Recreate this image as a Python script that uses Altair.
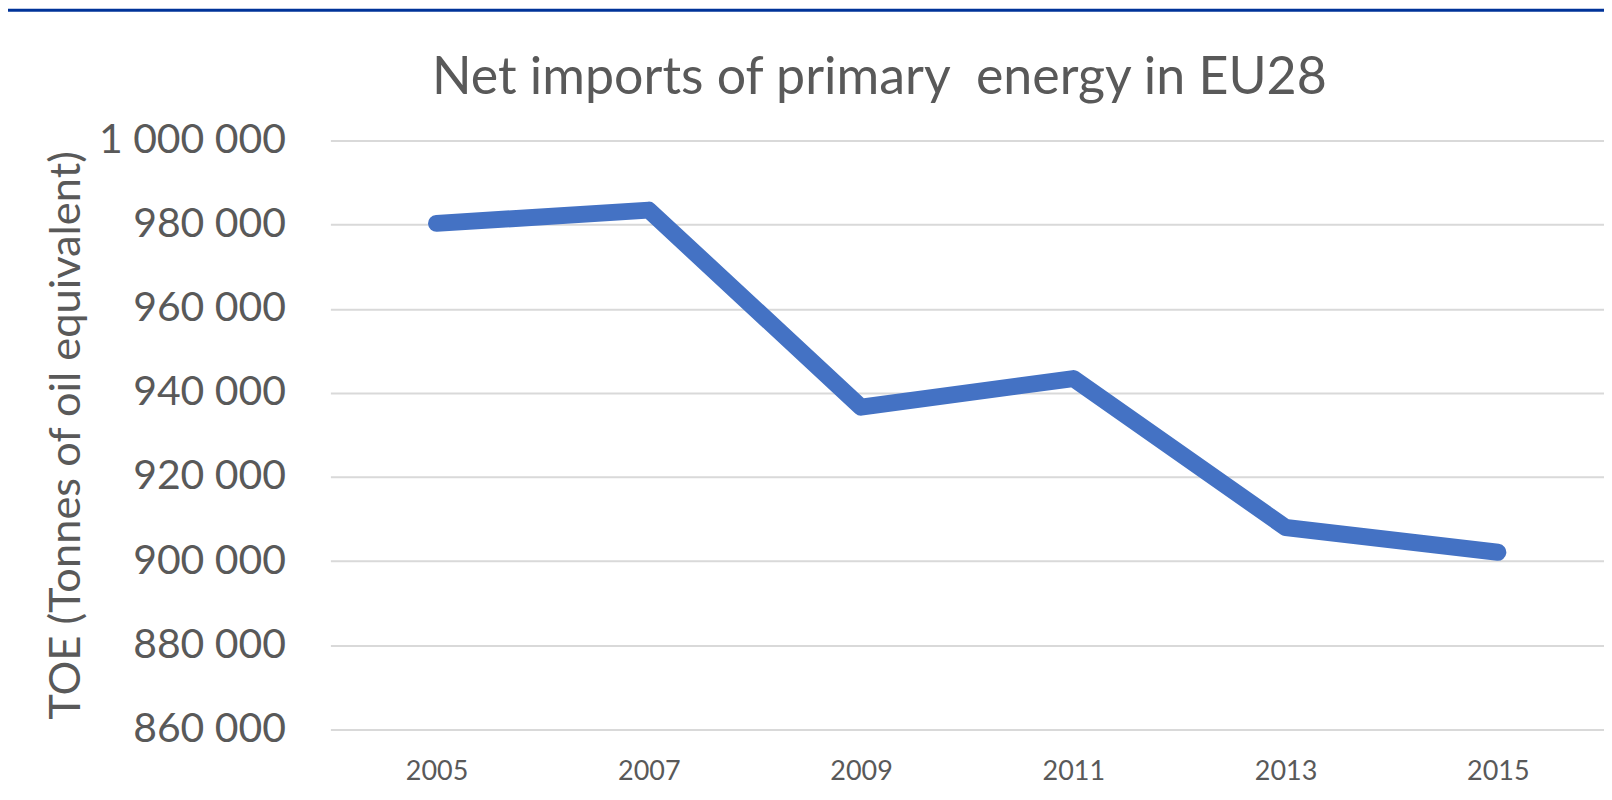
import altair as alt
import pandas as pd

years = ["2005", "2007", "2009", "2011", "2013", "2015"]
imports_toe = [980300, 983450, 936600, 943400, 908000, 902100]
y_ticks = [860000, 880000, 900000, 920000, 940000, 960000, 980000, 1000000]
title_text = "Net imports of primary\u00a0 energy in EU28"
y_title = "TOE (Tonnes of oil equivalent)"

df = pd.DataFrame({"year": years, "toe": imports_toe})

FONT = "Lato"
TXT = "#595959"
W, H = 1276, 590

line = alt.Chart(df).mark_line(
    color="#4472C4", strokeWidth=17, strokeCap="round", strokeJoin="round"
).encode(
    x=alt.X("year:O", sort=years, title=None,
            scale=alt.Scale(type="point", padding=0.5),
            axis=alt.Axis(labelAngle=0, labelFont=FONT, labelFontSize=27, labelColor=TXT,
                          labelPadding=42, labelBaseline="middle", ticks=False, tickSize=0,
                          domain=False, grid=False)),
    y=alt.Y("toe:Q", scale=alt.Scale(domain=[860000, 1000000], nice=False, zero=False),
            axis=alt.Axis(values=y_ticks, title=y_title,
                          labelExpr="replace(format(datum.value, ','), regexp(',', 'g'), ' ')",
                          labelFont=FONT, labelFontSize=41, labelColor=TXT, labelPadding=45,
                          labelLimit=400,
                          ticks=False, tickSize=0, domain=False,
                          gridColor="#D9D9D9", gridWidth=2,
                          titleFont=FONT, titleFontSize=43.5, titleColor=TXT, titleFontWeight="normal",
                          titleAngle=270, titleAlign="center", titleBaseline="alphabetic",
                          titleX=-251, titleY=H / 2, titleLimit=800)),
)

title = alt.Chart(pd.DataFrame({"t": [title_text]})).mark_text(
    font=FONT, fontSize=52, color=TXT, align="center", baseline="alphabetic"
).encode(text="t:N", x=alt.value(550), y=alt.value(-47))

band = alt.Chart(pd.DataFrame({"a": [0]})).mark_rect(color="#003399").encode(
    x=alt.value(-323), x2=alt.value(W), y=alt.value(-132), y2=alt.value(-129)
)

chart = alt.layer(band, line, title).properties(
    width=W, height=H,
    autosize=alt.AutoSizeParams(type="none"),
    padding={"left": 323, "top": 132, "right": 0, "bottom": 60},
).configure_view(stroke=None)

chart.save("out.html", embed_options={"renderer": "svg", "actions": False})
